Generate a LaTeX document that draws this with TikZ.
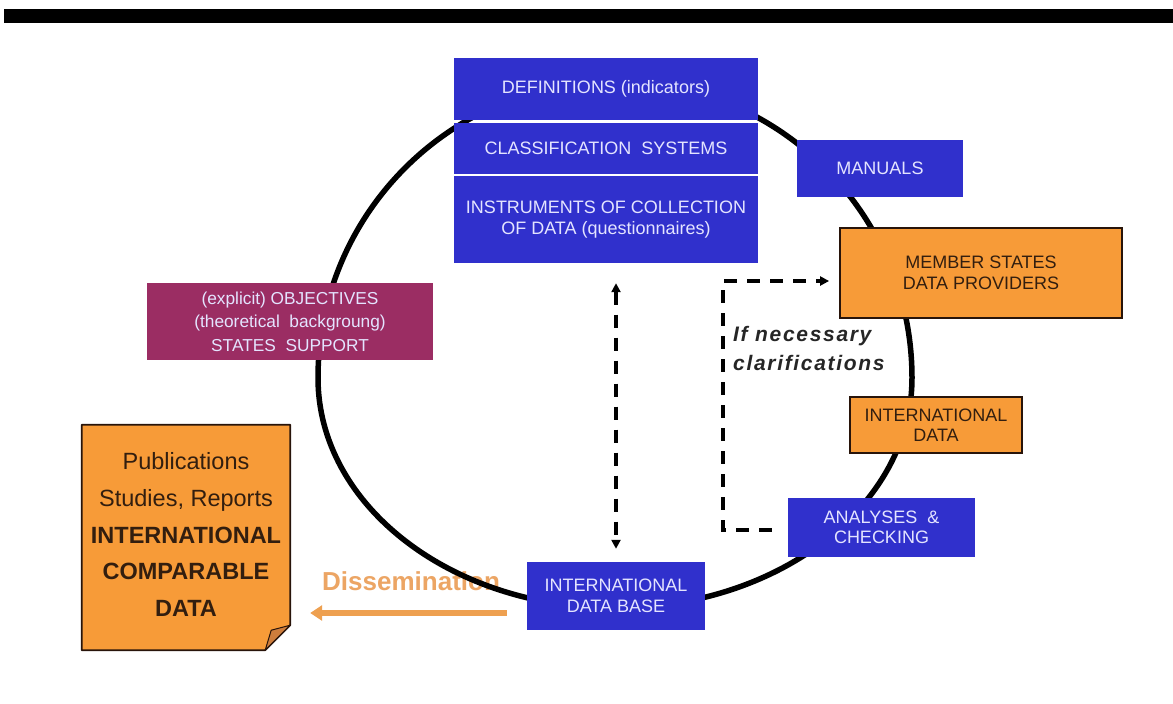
\documentclass[tikz,border=0pt]{standalone}
\usepackage{fontspec}
\setmainfont{Liberation Sans}
\newfontfamily\clarfont[LetterSpace=8]{Liberation Sans}
\usetikzlibrary{arrows.meta,calc}
\definecolor{myblue}{RGB}{48,48,204}
\definecolor{bluetext}{RGB}{228,228,255}
\definecolor{myorange}{RGB}{247,155,56}
\definecolor{oborder}{RGB}{40,20,10}
\definecolor{otext}{RGB}{50,30,15}
\definecolor{maroon}{RGB}{155,45,99}
\definecolor{dissem}{RGB}{236,165,100}
\definecolor{arrowor}{RGB}{238,160,80}
\definecolor{foldc}{RGB}{205,125,60}
\tikzset{
  boxfont/.style={font=\fontsize{18}{20.5}\selectfont},
  bluebox/.style={boxfont, fill=myblue, text=bluetext, align=center, inner sep=0pt},
  orbox/.style={boxfont, fill=myorange, draw=oborder, line width=1.8pt, text=otext, align=center, inner sep=0pt},
  marbox/.style={font=\fontsize{17.3}{23.5}\selectfont, fill=maroon, text=bluetext, align=center, inner sep=0pt},
  cyc/.style={line width=5.5pt, black},
  dline/.style={line width=3.2pt, black, dash pattern=on 13pt off 10pt},
  dtip/.style={-{Triangle[length=9pt,width=9pt]}},
}
\begin{document}
\begin{tikzpicture}[x=1pt,y=-1pt]
\useasboundingbox[fill=white] (0,0) rectangle (1173,704);
% top bar
\fill[black] (4,9) rectangle (1173,23);

% Dissemination label (the cycle passes over it)
\node[text=dissem, font=\bfseries\fontsize{26}{30}\selectfont, anchor=west, inner sep=0pt] (dis) at (322,581) {Dissemination};

% cycle: upper half circular, lower half flattened
\coordinate (cc) at (615,378);
\draw[cyc] (318,378) arc[start angle=180, end angle=360, radius=297]
           arc[start angle=0, end angle=180, x radius=297, y radius=230] -- cycle;

% top stack
\node[bluebox, minimum width=304pt, minimum height=62pt] (def) at (606,89) {DEFINITIONS (indicators)};
\node[bluebox, minimum width=304pt, minimum height=51pt] (cls) at (606,148.5) {CLASSIFICATION\ \ SYSTEMS};
\node[bluebox, minimum width=304pt, minimum height=87pt] (ins) at (606,219.5) {INSTRUMENTS OF COLLECTION\\OF DATA (questionnaires)};

\node[bluebox, minimum width=166pt, minimum height=57pt] (man) at (880,168.5) {MANUALS};
\node[orbox, minimum width=282pt, minimum height=90pt] (ms) at (981,273) {MEMBER STATES\\DATA PROVIDERS};
\node[marbox, minimum width=286pt, minimum height=77pt] (obj) at (290,321.5) {(explicit) OBJECTIVES\\(theoretical\ \ backgroung)\\STATES\ \ SUPPORT};
\node[orbox, minimum width=172pt, minimum height=56pt] (idata) at (936,425) {INTERNATIONAL\\DATA};
\node[bluebox, minimum width=187pt, minimum height=59pt] (an) at (881.5,527.5) {ANALYSES\ \ \&\\CHECKING};
\node[bluebox, minimum width=178pt, minimum height=68pt] (db) at (616,596) {INTERNATIONAL\\DATA BASE};

% clarification label
\node[text=black!85, font=\clarfont\bfseries\itshape\fontsize{21}{29}\selectfont, align=left, anchor=north west, inner sep=0pt] (clar) at (733,326) {If necessary\\clarifications};

% dashed double arrow
\draw[dline, {Triangle[length=9pt,width=9pt]}-{Triangle[length=9pt,width=9pt]}, shorten <=20pt, shorten >=13pt] (db.north |- ins.south) -- (db.north);

% dashed L connector
\coordinate (cA) at (723,530);
\coordinate (cB) at (723,281);
\draw[dline, dtip] ([xshift=-16pt]an.west |- cA) -- (cA) -- (cB) -- ([xshift=-10pt]ms.west |- cB);

% publications (folded sheet)
\node[inner sep=0pt, minimum width=208pt, minimum height=225pt] (pub) at (186,537.5) {};
\fill[myorange] (pub.north west) -- (pub.north east) -- ([yshift=25pt]pub.south east) -- ([xshift=-25pt]pub.south east) -- (pub.south west) -- cycle;
\node[font=\fontsize{23.5}{36.8}\selectfont, text=otext, align=center, inner sep=0pt] (pubtxt) at ([yshift=3pt]pub.center)
  {Publications\\Studies, Reports\\\textbf{INTERNATIONAL}\\\textbf{COMPARABLE}\\\textbf{DATA}};
\draw[oborder, line width=1.8pt, line join=round] (pub.north west) -- (pub.north east) -- ([yshift=25pt]pub.south east) -- ([xshift=-25pt]pub.south east) -- (pub.south west) -- cycle;
\draw[oborder, line width=1pt, fill=foldc, line join=round] ([yshift=25pt]pub.south east) -- ([xshift=-25pt]pub.south east) -- ([xshift=-19pt,yshift=20pt]pub.south east) -- cycle;

% dissemination arrow
\coordinate (arY) at (0,613);
\draw[arrowor, line width=5.5pt, -{Triangle[length=12pt,width=15pt]}, shorten <=20pt, shorten >=20pt] (db.west |- arY) -- (pub.east |- arY);
\end{tikzpicture}
\end{document}
